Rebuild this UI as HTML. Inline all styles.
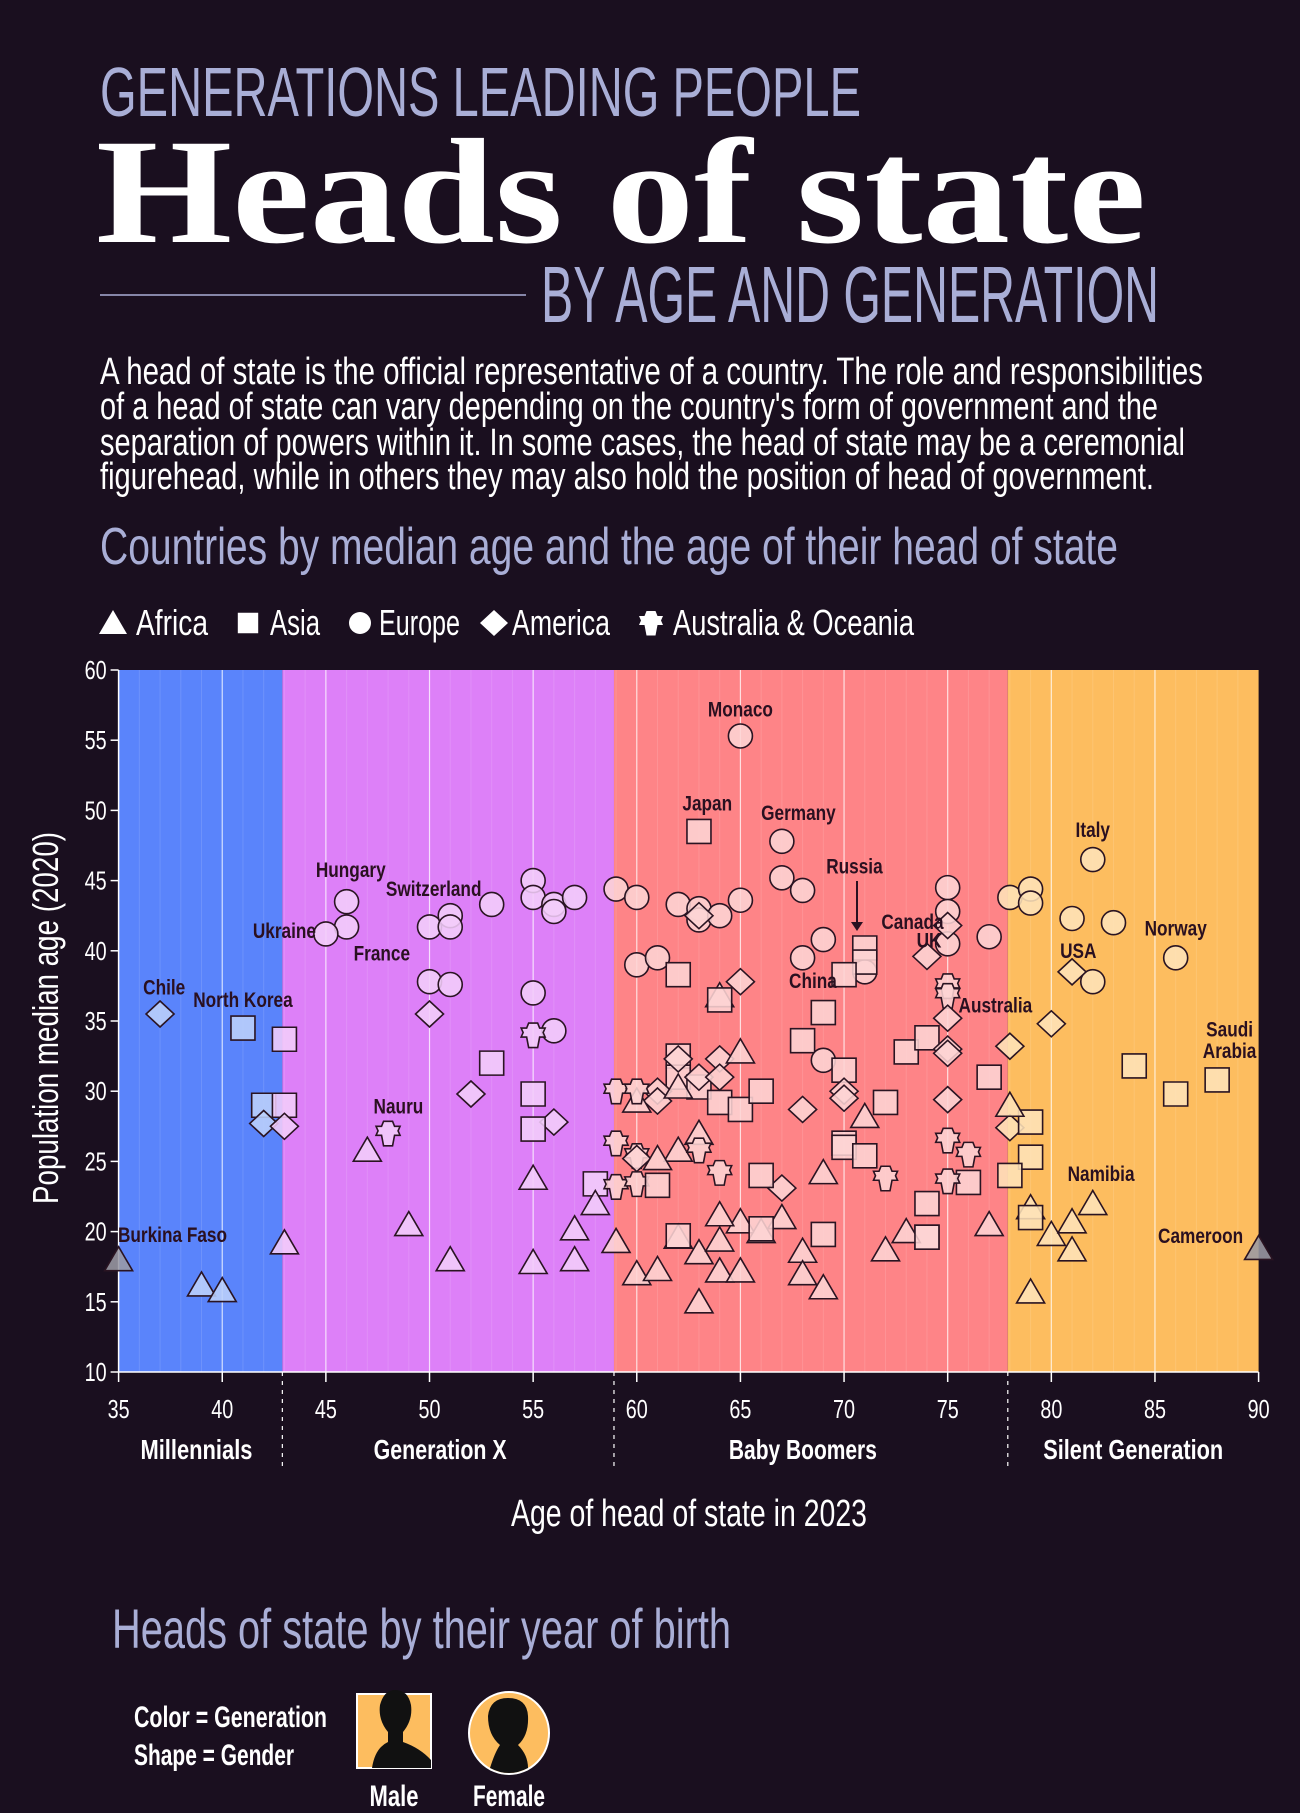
<!DOCTYPE html>
<html><head><meta charset="utf-8"><style>
html,body{margin:0;padding:0;background:#1a0f1f;}
svg{display:block}
.n{font-family:"Liberation Sans Narrow","Liberation Sans",sans-serif;}
</style></head><body>
<svg id="root" width="1300" height="1813" viewBox="0 0 1300 1813" xmlns="http://www.w3.org/2000/svg">
<rect width="1300" height="1813" fill="#1a0f1f"/>
<text class="n" x="100" y="116" font-size="70" fill="#a9aed6" textLength="761" lengthAdjust="spacingAndGlyphs">GENERATIONS LEADING PEOPLE</text>
<text x="96" y="242" font-family="Liberation Serif, serif" font-weight="bold" font-size="150" fill="#ffffff" textLength="1050" lengthAdjust="spacingAndGlyphs">Heads of state</text>
<line x1="100" y1="295" x2="526" y2="295" stroke="#a9aed6" stroke-width="1.5"/>
<text class="n" x="541" y="322" font-size="80" fill="#a9aed6" textLength="618" lengthAdjust="spacingAndGlyphs">BY AGE AND GENERATION</text>
<g class="n" font-size="38" fill="#ffffff">
<text x="100" y="384" textLength="1103" lengthAdjust="spacingAndGlyphs">A head of state is the official representative of a country. The role and responsibilities</text>
<text x="100" y="419" textLength="1058" lengthAdjust="spacingAndGlyphs">of a head of state can vary depending on the country's form of government and the</text>
<text x="100" y="455" textLength="1085" lengthAdjust="spacingAndGlyphs">separation of powers within it. In some cases, the head of state may be a ceremonial</text>
<text x="100" y="489" textLength="1054" lengthAdjust="spacingAndGlyphs">figurehead, while in others they may also hold the position of head of government.</text>
</g>
<text class="n" x="100" y="564" font-size="52" fill="#a9aed6" textLength="1018" lengthAdjust="spacingAndGlyphs">Countries by median age and the age of their head of state</text>
<g id="legend"></g>
<g id="chart"></g>
<text class="n" x="689" y="1526" text-anchor="middle" font-size="38" fill="#ffffff" textLength="356" lengthAdjust="spacingAndGlyphs">Age of head of state in 2023</text>
<text class="n" transform="translate(58,1018) rotate(-90)" text-anchor="middle" font-size="36" fill="#ffffff" textLength="372" lengthAdjust="spacingAndGlyphs">Population median age (2020)</text>
<text class="n" x="112" y="1648" font-size="56" fill="#a9aed6" textLength="619" lengthAdjust="spacingAndGlyphs">Heads of state by their year of birth</text>
<text class="n" x="134" y="1727" font-size="30" font-weight="bold" fill="#ffffff" textLength="193" lengthAdjust="spacingAndGlyphs">Color = Generation</text>
<text class="n" x="134" y="1765" font-size="30" font-weight="bold" fill="#ffffff" textLength="160" lengthAdjust="spacingAndGlyphs">Shape = Gender</text>
<g>
<rect x="357" y="1694" width="74" height="74" fill="#fdbd5f" stroke="#fff" stroke-width="2"/>
<path d="M372 1768 Q375 1748 388 1742 L388 1732 Q378 1720 380 1705 Q384 1690 395 1690 Q408 1690 411 1705 Q413 1720 403 1732 L403 1742 Q420 1748 431 1760 L431 1768 Z" fill="#111"/>
</g>
<g>
<ellipse cx="509" cy="1733" rx="40" ry="41" fill="#fdbd5f" stroke="#fff" stroke-width="2"/>
<path d="M490 1768 Q495 1752 500 1745 Q488 1735 488 1716 Q490 1698 508 1698 Q527 1698 528 1716 Q529 1735 518 1745 Q528 1755 528 1768 Q509 1778 490 1768 Z" fill="#111"/>
</g>
<text class="n" x="394" y="1806" text-anchor="middle" font-size="30" font-weight="bold" fill="#fff" textLength="49" lengthAdjust="spacingAndGlyphs">Male</text>
<text class="n" x="509" y="1806" text-anchor="middle" font-size="30" font-weight="bold" fill="#fff" textLength="72" lengthAdjust="spacingAndGlyphs">Female</text>
</svg>
<script>
// Data (age of head of state, population median age, continent code)
// continent: A=Africa, S=Asia, E=Europe, M=America, O=Oceania
const ages = [37,35,39,40,41,42,43,43,42,43,43,
46,46,45,50,51,51,53,55,55,56,56,57,50,51,55,56,50,52,56,53,55,55,58,55,48,47,49,51,55,55,57,57,58,59,59,59,59,59,
65,63,67,67,68,60,62,63,63,64,65,63,60,61,69,68,71,71,71,62,70,65,64,64,69,68,73,74,77,69,75,75,75,75,74,77,75,75,75,75,75,
62,62,63,64,65,66,70,72,62,63,64,64,61,61,70,70,68,75,60,62,65,71,63,60,60,60,60,67,62,61,61,66,70,70,71,74,74,76,63,64,72,75,76,75,65,62,64,63,64,60,61,63,64,65,66,67,68,68,69,69,72,73,77,62,66,69,74,
82,78,79,79,81,83,82,86,81,80,78,78,84,86,88,79,79,78,78,79,80,81,81,82,79,90,79];
const medians = [35.5,18,16.2,15.8,34.5,29,29,33.7,27.7,27.5,19.2,
43.5,41.7,41.2,41.7,42.5,41.7,43.3,45,43.8,43.3,42.8,43.8,37.8,37.6,37,34.3,35.5,29.8,27.8,32,29.8,27.3,23.4,34,27,25.8,20.5,18,23.8,17.8,20.2,18,22,44.4,30,26.3,23.2,19.3,
55.3,48.5,47.8,45.2,44.3,43.8,43.3,43,42.2,42.5,43.6,42.5,39,39.5,40.8,39.5,38.5,40.2,39.2,38.3,38.3,37.8,36.8,36.5,35.6,33.6,32.8,33.8,31,32.2,44.5,42.8,40.5,41.8,39.6,41,37.5,36.8,35.2,33,32.7,
32.5,31,30.3,29.2,28.7,30,31.5,29.2,32.3,31,32.3,31,30,29.3,30,29.5,28.7,29.4,29.3,30.3,32.8,28.2,27,30,25.4,23.4,25.2,23.1,25.8,25.2,23.3,24,26.3,26,25.4,22,19.6,23.5,25.8,24.2,23.8,26.5,25.5,23.6,20.7,19.6,21.2,18.5,19.4,17,17.3,15,17.2,17.2,20,21,18.6,17,16,24.2,18.7,20,20.5,19.7,20.2,19.8,19.6,
46.5,43.8,44.4,43.4,42.3,42,37.8,39.5,38.5,34.8,33.2,27.4,31.8,29.8,30.8,27.8,25.3,24,29,21.7,19.8,20.7,18.7,22,15.7,18.8,21];
const continents = ['M','A','A','A','S','S','S','S','M','M','A',
'E','E','E','E','E','E','E','E','E','E','E','E','E','E','E','E','M','M','M','S','S','S','S','O','O','A','A','A','A','A','A','A','A','E','O','O','O','A',
'E','S','E','E','E','E','E','E','E','E','E','M','E','E','E','E','E','S','S','S','S','M','A','S','S','S','S','S','S','E','E','E','E','M','M','E','O','O','M','M','M',
'S','S','S','S','S','S','S','S','M','M','M','M','M','M','M','M','M','M','A','A','A','A','A','O','O','O','M','M','A','A','S','S','S','S','S','S','S','S','O','O','O','O','O','O','A','A','A','A','A','A','A','A','A','A','A','A','A','A','A','A','A','A','A','S','S','S','S',
'E','E','E','E','E','E','E','E','M','M','M','M','S','S','S','S','S','S','A','A','A','A','A','A','A','A','S'];
const xTicks = [35,40,45,50,55,60,65,70,75,80,85,90];
const yTicks = [10,15,20,25,30,35,40,45,50,55,60];
const genNames = ['Millennials','Generation X','Baby Boomers','Silent Generation'];
const genBounds = [35,42.9,58.9,77.9,90];
const labelNames = ['Hungary','Switzerland','Ukraine','France','Chile','North Korea','Nauru','Burkina Faso','Monaco','Japan','Germany','Russia','Canada','UK','China','Australia','Italy','USA','Norway','Saudi','Arabia','Namibia','Cameroon'];
const labelAges = [46.2,50.2,43.0,47.7,37.2,41.0,48.5,37.6,65,63.4,67.8,70.5,73.3,74.1,68.5,77.3,82,81.3,86,88.6,88.6,82.4,87.2];
const labelMedians = [45.75,44.4,41.4,39.8,37.4,36.5,28.9,19.75,57.2,50.5,49.8,46,42.05,40.75,37.85,36.1,48.6,40,41.6,34.4,32.85,24.1,19.7];

const NS='http://www.w3.org/2000/svg';
const X0=118.6,X1=1258.6,Y0=1372,Y1=670;
function xs(a){return X0+(a-35)*(X1-X0)/55;}
function ys(m){return Y0-(m-10)*(Y0-Y1)/50;}
function mk(tag,attrs,parent){const e=document.createElementNS(NS,tag);for(const k in attrs)e.setAttribute(k,attrs[k]);parent.appendChild(e);return e;}
const chart=document.getElementById('chart');
const bandCols=['#5a84fb','#dd80f8','#fe8487','#fdbd5f'];
const fillCols=['#bcd0fb','#f2cdf9','#fdd4d4','#fee3b8'];
for(let i=0;i<4;i++){
  const r=mk('rect',{x:xs(genBounds[i]),y:Y1,width:xs(genBounds[i+1])-xs(genBounds[i]),height:Y0-Y1,fill:bandCols[i]},chart);
  
  
}
for(let a=36;a<90;a++){
  const major=a%5===0;
  const l=mk('line',{x1:xs(a),x2:xs(a),y1:Y1,y2:Y0,stroke:'#ffffff','stroke-opacity':major?0.75:0.12,'stroke-width':major?1.2:1},chart);
  
  
}
mk('line',{x1:X0,x2:X0,y1:Y1,y2:Y0,stroke:'#fff','stroke-width':1.5},chart);
mk('line',{x1:X0,x2:X1,y1:Y0,y2:Y0,stroke:'#fff','stroke-width':1.5},chart);
yTicks.forEach(t=>{
  mk('line',{x1:X0-8,x2:X0,y1:ys(t),y2:ys(t),stroke:'#fff','stroke-width':1.5},chart);
  const tx=mk('text',{x:X0-12,y:ys(t)+9,'text-anchor':'end','font-size':26,fill:'#fff',class:'n',textLength:22,lengthAdjust:'spacingAndGlyphs'},chart);
  tx.textContent=t;
  
  
});
xTicks.forEach(t=>{
  mk('line',{x1:xs(t),x2:xs(t),y1:Y0,y2:Y0+10,stroke:'#fff','stroke-width':1.5},chart);
  const tx=mk('text',{x:xs(t),y:1418,'text-anchor':'middle','font-size':26,fill:'#fff',class:'n',textLength:22,lengthAdjust:'spacingAndGlyphs'},chart);
  tx.textContent=t;
  
  
});
for(let i=1;i<4;i++){
  mk('line',{x1:xs(genBounds[i]),x2:xs(genBounds[i]),y1:Y0,y2:1470,stroke:'#fff','stroke-width':1.2,'stroke-dasharray':'4,5'},chart);
}
const genW=[112,133,148,180];
genNames.forEach((g,i)=>{
  const tx=mk('text',{x:(xs(genBounds[i])+xs(genBounds[i+1]))/2+(i==0?-4:(i==3?0:-8)),y:1459,'text-anchor':'middle','font-size':28,'font-weight':'bold',fill:'#fff',class:'n',textLength:genW[i],lengthAdjust:'spacingAndGlyphs'},chart);
  tx.textContent=g;
  
  
});
function genIdx(a){for(let i=0;i<4;i++)if(a<genBounds[i+1]+0.01)return i;return 3;}
function shapePath(c,x,y){
  if(c==='A')return `M${x} ${y-13}L${x+14} ${y+11}L${x-14} ${y+11}Z`;
  if(c==='S')return `M${x-12} ${y-12}h24v24h-24Z`;
  if(c==='M')return `M${x} ${y-13}L${x+14} ${y}L${x} ${y+13}L${x-14} ${y}Z`;
  if(c==='O'){const a=4.5,b=12;return `M${x-a} ${y-b}h${2*a}l2 5l${b-a-2} 0l-2 ${a}l2 ${a}l-${b-a-2} 0l-2 ${b-a-2+5}h-${2*a}l-2 -${b-a+3}l-${b-a-2} 0l2 -${a}l-2 -${a}l${b-a-2} 0Z`;}
  return '';
}
const pts=mk('g',{},chart);


for(let i=0;i<ages.length;i++){
  const x=xs(ages[i]),y=ys(medians[i]),c=continents[i];
  let fill=fillCols[genIdx(ages[i])];
  if(i===1||i===ages.length-2)fill='#9a9aa4';
  let el;
  if(c==='E')el=mk('circle',{cx:x,cy:y,r:12,fill:fill,'fill-opacity':0.88,stroke:'#2a1422','stroke-width':1.6},pts);
  else el=mk('path',{d:shapePath(c,x,y),fill:fill,'fill-opacity':0.88,stroke:'#2a1422','stroke-width':1.6},pts);
  
  
}
labelNames.forEach((n,i)=>{
  const tx=mk('text',{x:0,y:0,transform:`translate(${xs(labelAges[i])},${ys(labelMedians[i])+7}) scale(0.82,1)`,'text-anchor':'middle','font-size':21,'font-weight':'bold',fill:'#2a1020',class:'n'},chart);
  tx.textContent=n;
  
  
});
mk('line',{x1:857,x2:857,y1:881,y2:925,stroke:'#2a1020','stroke-width':2},chart);
mk('path',{d:'M851 922L857 931L863 922Z',fill:'#2a1020'},chart);
const lg=document.getElementById('legend');
const legendItems=['Africa','Asia','Europe','America','Australia & Oceania'];
const legendCodes=['A','S','E','M','O'];
const legendX=[113,248,360,494,651];
const legendTX=[136,270,379,512,673];
const legendW=[72,50,81,98,241];
legendItems.forEach((t,i)=>{
  const x=legendX[i],y=621;
  let s;
  if(legendCodes[i]==='E')s=mk('circle',{cx:x,cy:y+2,r:11,fill:'#fff'},lg);
  else s=mk('path',{d:shapePath(legendCodes[i],x,y+2),fill:'#fff',transform:legendCodes[i]==='S'?`translate(${x},${y+2}) scale(0.85) translate(${-x},${-y-2})`:''},lg);
  
  
  const tx=mk('text',{x:legendTX[i],y:y+14,'font-size':36,fill:'#fff',class:'n',textLength:legendW[i],lengthAdjust:'spacingAndGlyphs'},lg);
  tx.textContent=t;
  
  
});
</script>
</body></html>
